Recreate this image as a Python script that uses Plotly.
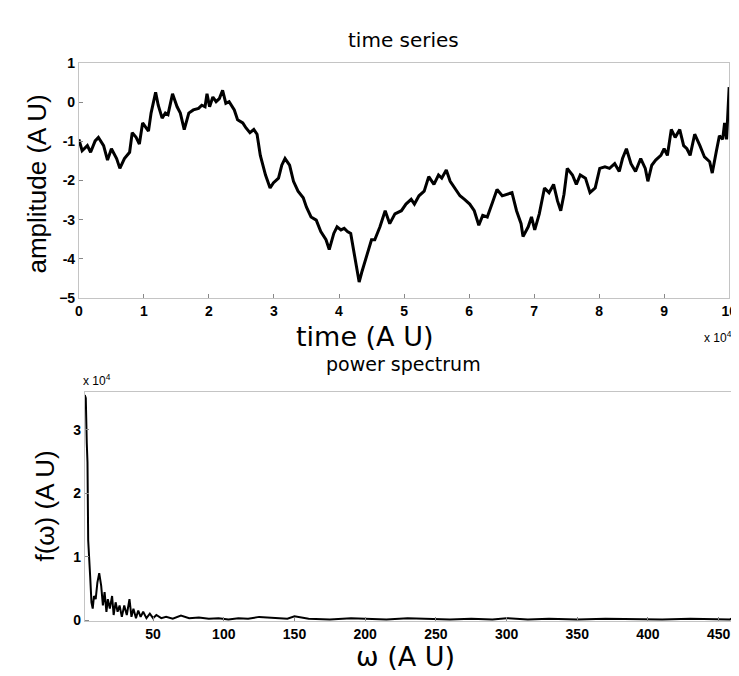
import plotly.graph_objects as go

# time series, time in units of 1e4 (A U)
time_x = [0.00, 0.05, 0.13, 0.18, 0.25, 0.30, 0.38, 0.44, 0.50, 0.58, 0.63, 0.70, 0.78, 0.82,
          0.88, 0.93, 0.98, 1.03, 1.07, 1.11, 1.18, 1.22, 1.28, 1.33, 1.37, 1.44, 1.51, 1.56,
          1.62, 1.69, 1.76, 1.84, 1.89, 1.94, 1.97, 2.01, 2.06, 2.11, 2.16, 2.21, 2.26, 2.31,
          2.39, 2.44, 2.52, 2.57, 2.63, 2.69, 2.74, 2.79, 2.87, 2.94, 2.99, 3.07, 3.12, 3.17,
          3.24, 3.30, 3.37, 3.45, 3.50, 3.57, 3.65, 3.72, 3.80, 3.85, 3.92, 3.97, 4.03, 4.08,
          4.13, 4.18, 4.23, 4.28, 4.31, 4.35, 4.43, 4.50, 4.55, 4.63, 4.71, 4.78, 4.86, 4.96,
          5.03, 5.11, 5.16, 5.23, 5.31, 5.38, 5.46, 5.53, 5.58, 5.65, 5.71, 5.78, 5.86, 5.93,
          6.01, 6.08, 6.15, 6.21, 6.28, 6.36, 6.43, 6.51, 6.58, 6.66, 6.73, 6.80, 6.83, 6.91,
          6.96, 7.01, 7.08, 7.16, 7.23, 7.30, 7.36, 7.41, 7.46, 7.51, 7.59, 7.65, 7.71, 7.79,
          7.86, 7.94, 8.01, 8.09, 8.16, 8.24, 8.31, 8.36, 8.42, 8.49, 8.56, 8.64, 8.71, 8.75,
          8.81, 8.87, 8.95, 9.00, 9.05, 9.11, 9.17, 9.24, 9.30, 9.35, 9.40, 9.47, 9.55, 9.62,
          9.70, 9.74, 9.80, 9.85, 9.90, 9.93, 9.96, 9.98, 10.00]
amplitude = [-0.95, -1.24, -1.11, -1.28, -0.99, -0.90, -1.11, -1.48, -1.19, -1.44, -1.69, -1.44,
             -1.28, -0.78, -0.90, -1.07, -0.53, -0.66, -0.74, -0.28, 0.25, -0.08, -0.41, -0.28,
             -0.32, 0.21, -0.12, -0.28, -0.70, -0.28, -0.20, -0.16, -0.08, -0.12, 0.21, -0.12,
             0.13, 0.01, 0.09, 0.30, -0.03, 0.01, -0.20, -0.45, -0.53, -0.66, -0.78, -0.70,
             -0.82, -1.36, -1.86, -2.19, -2.06, -1.94, -1.61, -1.44, -1.61, -2.02, -2.27, -2.44,
             -2.68, -2.93, -3.01, -3.30, -3.51, -3.76, -3.35, -3.18, -3.26, -3.22, -3.30, -3.35,
             -3.84, -4.26, -4.59, -4.34, -3.93, -3.51, -3.51, -3.18, -2.77, -3.10, -2.85, -2.77,
             -2.60, -2.48, -2.60, -2.39, -2.27, -1.90, -2.10, -1.86, -1.94, -1.73, -2.02, -2.19,
             -2.39, -2.48, -2.60, -2.77, -3.14, -2.89, -2.93, -2.56, -2.23, -2.39, -2.35, -2.31,
             -2.77, -3.10, -3.43, -3.18, -2.93, -3.26, -2.85, -2.19, -2.31, -2.10, -2.52, -2.77,
             -2.35, -1.69, -1.86, -2.10, -1.86, -1.94, -2.31, -2.19, -1.69, -1.65, -1.69, -1.57,
             -1.77, -1.44, -1.19, -1.57, -1.77, -1.44, -1.69, -2.02, -1.61, -1.48, -1.36, -1.19,
             -1.36, -0.70, -0.90, -0.70, -1.11, -1.19, -1.36, -0.82, -1.11, -1.40, -1.52, -1.81,
             -1.28, -0.86, -0.95, -0.53, -0.95, -0.20, 0.38]

# power spectrum, f in units of 1e4 (A U)
omega = [1.7, 2.4, 3.1, 3.6, 4.1, 4.8, 5.5, 6.4, 7.3, 8.2, 9.4, 10.6, 11.9, 13.3, 14.5, 15.7,
         17.0, 18.0, 19.4, 21.0, 22.1, 23.5, 24.9, 26.3, 27.9, 29.6, 31.4, 33.3, 34.7, 36.1,
         37.9, 39.5, 41.2, 43.0, 45.3, 47.7, 50.0, 52.3, 55.8, 59.2, 63.9, 69.7, 75.5, 82.4,
         89.4, 96.3, 103.3, 110.3, 117.2, 125, 135, 145, 150, 160, 175, 190, 200, 215, 230,
         245, 260, 275, 290, 300, 315, 330, 350, 370, 390, 410, 430, 445, 458, 462, 463]
power = [3.55, 3.50, 2.79, 2.49, 1.26, 0.85, 0.69, 0.28, 0.18, 0.38, 0.33, 0.59, 0.74, 0.54,
         0.23, 0.44, 0.13, 0.33, 0.18, 0.38, 0.08, 0.28, 0.13, 0.23, 0.05, 0.23, 0.08, 0.33,
         0.05, 0.18, 0.03, 0.15, 0.05, 0.13, 0.03, 0.10, 0.03, 0.08, 0.03, 0.05, 0.02, 0.07,
         0.03, 0.04, 0.02, 0.03, 0.01, 0.03, 0.02, 0.05, 0.03, 0.02, 0.06, 0.02, 0.01, 0.03,
         0.02, 0.01, 0.03, 0.02, 0.01, 0.02, 0.01, 0.03, 0.01, 0.02, 0.01, 0.02, 0.01, 0.01,
         0.02, 0.01, 0.01, 0.06, 0.10]

top_ticks = list(range(0, 11))
amp_ticks = [1, 0, -1, -2, -3, -4, -5]
omega_ticks = [50, 100, 150, 200, 250, 300, 350, 400, 450]
power_ticks = [0, 1, 2, 3]

W, H = 739, 676
FONT = "Liberation Sans, Arial, sans-serif"
WIDE = "DejaVu Sans, Liberation Sans, sans-serif"


def px(x):
    return x / W


def py(y):
    return 1 - y / H


fig = go.Figure()

fig.add_trace(go.Scatter(
    x=time_x, y=amplitude, mode="lines",
    line=dict(color="black", width=3),
    xaxis="x", yaxis="y", showlegend=False,
))

fig.add_trace(go.Scatter(
    x=omega, y=power, mode="lines",
    line=dict(color="black", width=2),
    xaxis="x2", yaxis="y2", showlegend=False,
))

axis_common = dict(
    showgrid=False, zeroline=False, showline=True, mirror=True,
    linecolor="#c4c4c4", linewidth=1,
    ticks="inside", ticklen=4, tickcolor="#888",
    tickfont=dict(family=FONT, size=14, color="black", weight="bold"),
)

fig.update_layout(
    width=W, height=H,
    margin=dict(l=0, r=0, t=0, b=0),
    plot_bgcolor="white", paper_bgcolor="white",
    xaxis=dict(domain=[px(68), px(729)], range=[0, 10], anchor="y",
               tickvals=top_ticks, **axis_common),
    yaxis=dict(domain=[py(289), py(48)], range=[-5, 1], anchor="x",
               tickvals=amp_ticks, ticktext=["1", "0", "-1", "-2", "-3", "-4", "\u22125"],
               **axis_common),
    xaxis2=dict(domain=[px(74), px(737)], range=[1.7, 463], anchor="y2",
                tickvals=omega_ticks, **axis_common),
    yaxis2=dict(domain=[py(620), py(385)], range=[-0.02, 3.6], anchor="x2",
                tickvals=power_ticks, **axis_common),
)

annotations = [
    dict(text="time series", x=px(398), y=py(25), size=20, family=WIDE),
    dict(text="power spectrum", x=px(398), y=py(356), size=19, family=WIDE),
    dict(text="time (A U)", x=px(358), y=py(328), size=27, family=WIDE),
    dict(text="\u03c9 (A U)", x=px(400), y=py(656), size=27, family=WIDE),
    dict(text="x 10<sup>4</sup>", x=px(718), y=py(329), size=12, family=FONT),
    dict(text="x 10<sup>4</sup>", x=px(86), y=py(373), size=12, family=FONT),
]
for a in annotations:
    fig.add_annotation(
        text=a["text"], x=a["x"], y=a["y"], xref="paper", yref="paper",
        showarrow=False, xanchor="center", yanchor="middle",
        font=dict(family=a["family"], size=a["size"], color="black"),
    )

fig.add_annotation(
    text="amplitude (A U)", x=px(25), y=py(172), xref="paper", yref="paper",
    showarrow=False, textangle=-90, xanchor="center", yanchor="middle",
    font=dict(family=FONT, size=26, color="black"),
)
fig.add_annotation(
    text="f(\u03c9) (A U)", x=px(34), y=py(502), xref="paper", yref="paper",
    showarrow=False, textangle=-90, xanchor="center", yanchor="middle",
    font=dict(family=FONT, size=26, color="black"),
)

fig.write_html("out.html")
